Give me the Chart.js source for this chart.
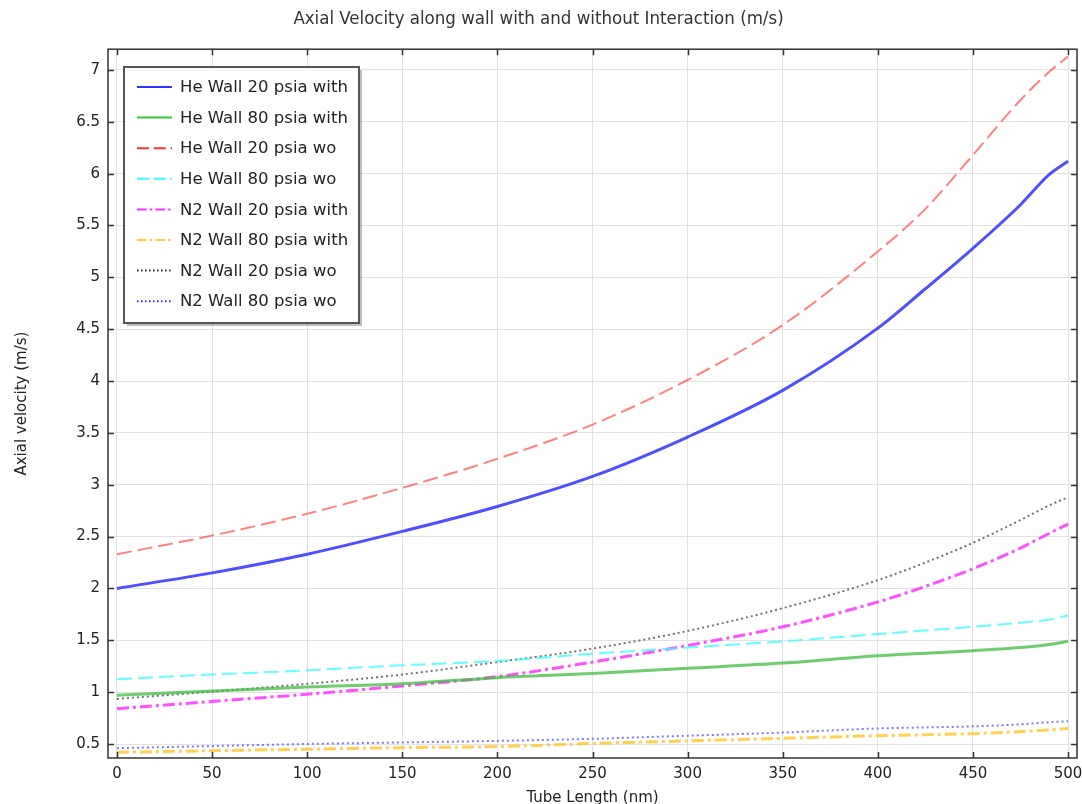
<!DOCTYPE html>
<html>
<head>
<meta charset="utf-8">
<script src="https://cdn.jsdelivr.net/npm/chart.js@4/dist/chart.umd.min.js"></script>
<style>
  body { margin: 0; background: #fff; }
  #wrap { width: 1082px; height: 804px; }
</style>
</head>
<body>
<div id="wrap"><canvas id="chart" width="1082" height="804"></canvas></div>
<script>
// tube length positions (nm)
const tubeLength = [0, 50, 100, 150, 200, 250, 300, 350, 400, 425, 450, 475, 490, 500];

// axial velocity (m/s)
const heWall20With = [2.0, 2.15, 2.33, 2.55, 2.79, 3.08, 3.46, 3.91, 4.51, 4.89, 5.28, 5.70, 5.99, 6.12];
const heWall80With = [0.97, 1.01, 1.05, 1.08, 1.14, 1.18, 1.23, 1.28, 1.35, 1.375, 1.40, 1.43, 1.46, 1.49];
const heWall20Wo   = [2.33, 2.51, 2.72, 2.97, 3.25, 3.58, 4.01, 4.54, 5.25, 5.66, 6.18, 6.71, 6.98, 7.13];
const heWall80Wo   = [1.125, 1.17, 1.21, 1.26, 1.30, 1.37, 1.43, 1.49, 1.56, 1.595, 1.63, 1.67, 1.70, 1.74];
const n2Wall20With = [0.84, 0.91, 0.98, 1.06, 1.15, 1.29, 1.45, 1.63, 1.87, 2.02, 2.19, 2.39, 2.53, 2.62];
const n2Wall80With = [0.42, 0.435, 0.45, 0.465, 0.475, 0.505, 0.53, 0.555, 0.58, 0.59, 0.60, 0.62, 0.635, 0.65];
const n2Wall20Wo   = [0.935, 1.005, 1.08, 1.17, 1.29, 1.42, 1.59, 1.81, 2.08, 2.25, 2.44, 2.66, 2.80, 2.88];
const n2Wall80Wo   = [0.46, 0.48, 0.50, 0.515, 0.53, 0.55, 0.58, 0.61, 0.65, 0.66, 0.67, 0.69, 0.71, 0.72];

const xTicks = [0, 50, 100, 150, 200, 250, 300, 350, 400, 450, 500];
const yTicks = [0.5, 1, 1.5, 2, 2.5, 3, 3.5, 4, 4.5, 5, 5.5, 6, 6.5, 7];

const labels = [
    'He Wall 20 psia with', 'He Wall 80 psia with', 'He Wall 20 psia wo', 'He Wall 80 psia wo',
    'N2 Wall 20 psia with', 'N2 Wall 80 psia with', 'N2 Wall 20 psia wo', 'N2 Wall 80 psia wo'
];

function toPoints(ys) {
    return ys.map((y, i) => ({ x: tubeLength[i], y: y }));
}

function makeSet(label, ys, color, legendColor, width, dash) {
    return {
        label: label,
        data: toPoints(ys),
        borderColor: color,
        legendColor: legendColor,
        borderWidth: width,
        borderDash: dash,
        pointRadius: 0,
        fill: false,
        cubicInterpolationMode: 'monotone'
    };
}

const datasets = [
    makeSet(labels[0], heWall20With, 'rgba(60,60,255,0.9)', '#3333ff', 3, []),
    makeSet(labels[1], heWall80With, 'rgba(60,190,60,0.75)', '#33cc33', 3, []),
    makeSet(labels[2], heWall20Wo, 'rgba(255,90,90,0.75)', '#ff3333', 2, [15, 6]),
    makeSet(labels[3], heWall80Wo, 'rgba(60,255,255,0.8)', '#33ffff', 2, [15, 6]),
    makeSet(labels[4], n2Wall20With, 'rgba(255,50,255,0.85)', '#ff33ff', 3, [12, 4, 3, 4]),
    makeSet(labels[5], n2Wall80With, 'rgba(255,200,50,0.85)', '#ffcc33', 3, [12, 4, 3, 4]),
    makeSet(labels[6], n2Wall20Wo, 'rgba(90,90,90,0.85)', '#333333', 2, [2, 3]),
    makeSet(labels[7], n2Wall80Wo, 'rgba(90,90,255,0.8)', '#3333ff', 2, [2, 3])
];

// frame, inward ticks and the boxed legend inside the plot
const framePlugin = {
    id: 'frame',
    afterDatasetsDraw(chart) {
        const ctx = chart.ctx;
        const a = chart.chartArea;
        const xs = chart.scales.x;
        const ys = chart.scales.y;
        ctx.save();
        ctx.strokeStyle = '#333';
        ctx.lineWidth = 1.5;
        ctx.strokeRect(a.left, a.top, a.right - a.left, a.bottom - a.top);
        ctx.beginPath();
        xTicks.forEach(v => {
            const px = Math.round(xs.getPixelForValue(v)) + 0.5;
            ctx.moveTo(px, a.bottom); ctx.lineTo(px, a.bottom - 6);
            ctx.moveTo(px, a.top); ctx.lineTo(px, a.top + 6);
        });
        yTicks.forEach(v => {
            const py = Math.round(ys.getPixelForValue(v)) + 0.5;
            ctx.moveTo(a.left, py); ctx.lineTo(a.left + 6, py);
            ctx.moveTo(a.right, py); ctx.lineTo(a.right - 6, py);
        });
        ctx.stroke();

        // legend box
        const bx = 124, by = 67, bw = 235, bh = 256;
        ctx.fillStyle = 'rgba(0,0,0,0.25)';
        ctx.fillRect(bx + 3, by + 3, bw, bh);
        ctx.fillStyle = '#fff';
        ctx.fillRect(bx, by, bw, bh);
        ctx.strokeStyle = '#555';
        ctx.lineWidth = 2;
        ctx.strokeRect(bx, by, bw, bh);

        ctx.font = '16.5px "DejaVu Sans"';
        ctx.textBaseline = 'middle';
        chart.data.datasets.forEach((ds, i) => {
            const ry = by + 20 + i * 30.6;
            ctx.strokeStyle = ds.legendColor;
            ctx.lineWidth = 2;
            ctx.setLineDash(ds.borderDash.length ? ds.borderDash.map(d => Math.max(1.5, d * 0.8)) : []);
            ctx.beginPath();
            ctx.moveTo(137, ry);
            ctx.lineTo(172, ry);
            ctx.stroke();
            ctx.setLineDash([]);
            ctx.fillStyle = '#222';
            ctx.fillText(ds.label, 180, ry + 1);
        });
        ctx.restore();
    }
};

new Chart(document.getElementById('chart'), {
    type: 'line',
    data: { datasets: datasets },
    options: {
        responsive: false,
        animation: false,
        devicePixelRatio: 1,
        layout: { padding: { left: 0, right: 5, top: 0, bottom: 0 } },
        plugins: {
            legend: { display: false },
            tooltip: { enabled: false },
            title: {
                display: true,
                text: 'Axial Velocity along wall with and without Interaction (m/s)',
                color: '#333',
                font: { family: '"DejaVu Sans Condensed", "DejaVu Sans"', size: 18.5, weight: 'normal' },
                padding: { top: 8, bottom: 19 }
            }
        },
        scales: {
            x: {
                type: 'linear',
                min: -4.7,
                max: 504.7,
                afterFit: s => { s.height = 46; s.paddingLeft = 0; s.paddingRight = 0; },
                afterBuildTicks: s => { s.ticks = xTicks.map(v => ({ value: v })); },
                grid: { color: '#e2e2e2', lineWidth: 1, drawTicks: false },
                border: { display: false },
                ticks: {
                    padding: 7,
                    color: '#222',
                    maxRotation: 0,
                    font: { family: '"DejaVu Sans"', size: 15 },
                    callback: v => String(v)
                },
                title: {
                    display: true,
                    text: 'Tube Length (nm)',
                    color: '#222',
                    font: { family: '"DejaVu Sans"', size: 15 },
                    padding: { top: 0, bottom: -3 }
                }
            },
            y: {
                type: 'linear',
                min: 0.365,
                max: 7.2,
                afterFit: s => { s.width = 108; s.paddingTop = 0; s.paddingBottom = 0; },
                afterBuildTicks: s => { s.ticks = yTicks.map(v => ({ value: v })); },
                grid: { color: '#e2e2e2', lineWidth: 1, drawTicks: false },
                border: { display: false },
                ticks: {
                    padding: 8,
                    color: '#222',
                    font: { family: '"DejaVu Sans"', size: 15 },
                    callback: v => String(+v.toFixed(2))
                },
                title: {
                    display: true,
                    text: 'Axial velocity (m/s)',
                    color: '#222',
                    font: { family: '"DejaVu Sans"', size: 15 },
                    padding: { top: 13, bottom: 0 }
                }
            }
        }
    },
    plugins: [framePlugin]
});
</script>
</body>
</html>
